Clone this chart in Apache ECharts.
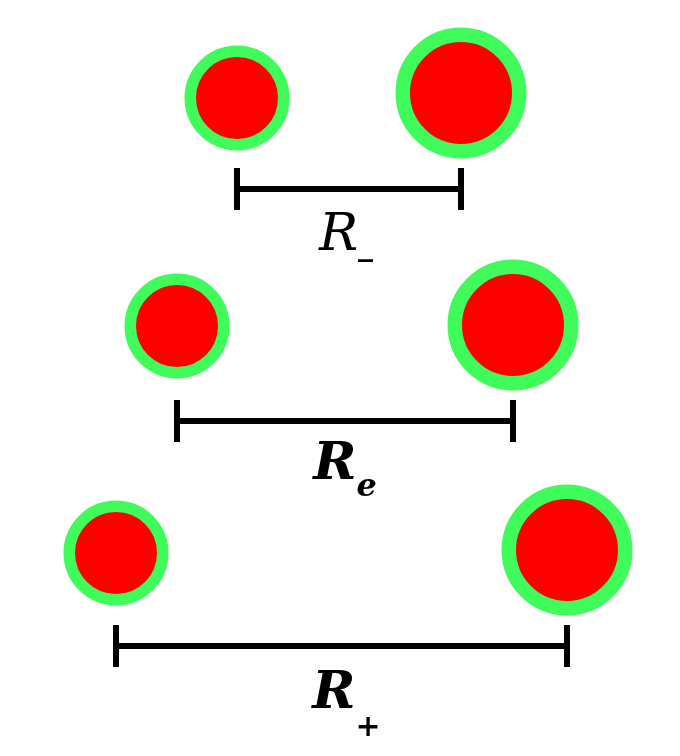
<!DOCTYPE html>
<html>
<head>
<meta charset="utf-8">
<title>R-, Re, R+</title>
<script src="https://cdn.jsdelivr.net/npm/echarts@6/dist/echarts.min.js"></script>
<style>
  html, body { margin: 0; padding: 0; background: #fff; }
  #chart { width: 680px; height: 756px; }
</style>
</head>
<body>
<div id="chart"></div>
<script>
// three pairs of particles, one row per separation
const rowNames = ['R_-', 'R_e', 'R_+'];
const subText = ['_', 'e', '+'];
const mainWeight = ['normal', 'bold', 'bold'];
const leftX = [237, 177, 116];      // centre of small particle
const sepR = [224, 336, 451];       // separation to the big one
const smallY = [98, 326, 553];
const largeY = [93, 325, 550];
const barY = [189, 421, 646];
const labelY = [236, 465, 694];

(function () {
  let myChart = echarts.init(document.getElementById('chart'));

  // Liberation Serif has no italic here, DejaVu Serif does
  const serif = "'DejaVu Serif', serif";
  const rightX = leftX.map((x, i) => x + sepR[i]);

  const ring = {
    color: '#ff0000',
    borderColor: '#40fc5a',
    opacity: 1
  };

  const bars = rowNames.map((name, i) => ({
    type: 'line',
    name: name,
    data: [[leftX[i], barY[i]], [rightX[i], barY[i]]],
    symbol: 'none',
    lineStyle: { color: '#000', width: 6, opacity: 1 },
    z: 2
  }));

  const ticks = [];
  rowNames.forEach((n, i) => {
    ticks.push([leftX[i], barY[i]]);
    ticks.push([rightX[i], barY[i]]);
  });

  const subPad = [[22, 0, 0, 0], [46, 0, 0, 0], [68, 0, 0, 0]];
  const labelNudge = [[-3, 0], [0, 0], [5, 0]];
  const rich = {};
  rowNames.forEach((n, i) => {
    rich['r' + i] = {
      fontFamily: serif,
      fontStyle: 'italic',
      fontWeight: mainWeight[i],
      fontSize: 52,
      color: '#000'
    };
    rich['s' + i] = {
      fontFamily: serif,
      fontStyle: i === 1 ? 'italic' : 'normal',
      fontWeight: 'bold',
      fontSize: i === 1 ? 32 : 30,
      color: '#000',
      padding: subPad[i]
    };
  });

  let option = {
    animation: false,
    backgroundColor: '#fff',
    grid: { left: 0, right: 0, top: 0, bottom: 0 },
    xAxis: { type: 'value', min: 0, max: 680, show: false },
    yAxis: { type: 'value', min: 0, max: 756, inverse: true, show: false },
    series: [
      ...bars,
      {
        type: 'scatter',
        name: 'ticks',
        symbol: 'rect',
        symbolSize: [6, 42],
        itemStyle: { color: '#000', opacity: 1 },
        data: ticks,
        z: 3
      },
      {
        type: 'scatter',
        name: 'small',
        symbolSize: 93.5,
        itemStyle: Object.assign({ borderWidth: 11.5 }, ring),
        data: leftX.map((x, i) => [x, smallY[i]]),
        z: 4
      },
      {
        type: 'scatter',
        name: 'large',
        symbolSize: 116.5,
        itemStyle: Object.assign({ borderWidth: 14.5 }, ring),
        data: rightX.map((x, i) => [x, largeY[i]]),
        z: 4
      },
      {
        type: 'scatter',
        name: 'labels',
        symbolSize: 0,
        itemStyle: { opacity: 1 },
        data: rowNames.map((n, i) => ({
          name: n,
          value: [(leftX[i] + rightX[i]) / 2, labelY[i]],
          label: { offset: labelNudge[i] }
        })),
        label: {
          show: true,
          position: 'inside',
          color: '#000',
          formatter(p) {
            const i = p.dataIndex;
            return '{r' + i + '|R}{s' + i + '|' + subText[i] + '}';
          },
          rich: rich
        },
        z: 5
      }
    ]
  };

  myChart.setOption(option);
}());
</script>
</body>
</html>
